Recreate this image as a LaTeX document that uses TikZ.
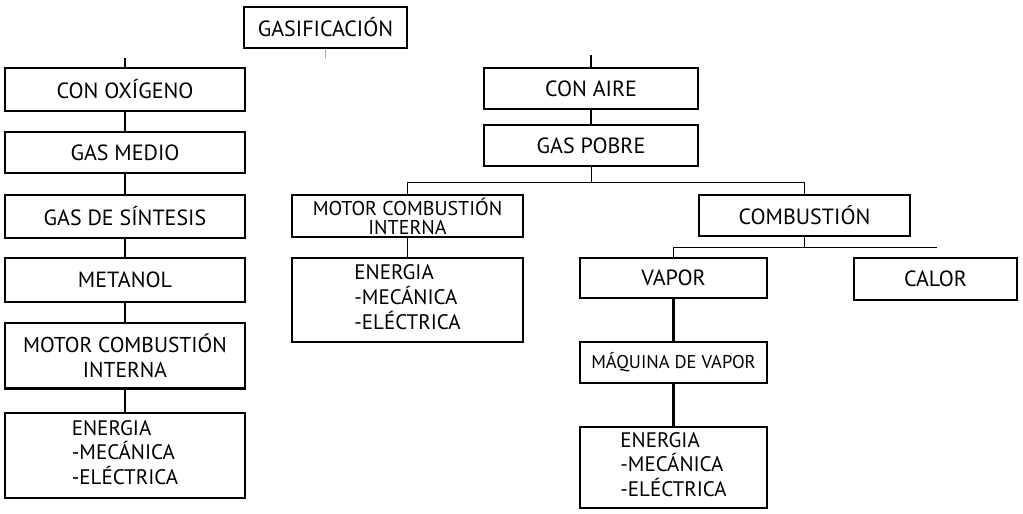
\documentclass[tikz,border=0pt]{standalone}
\usepackage{fontspec}
\setmainfont{PT Sans}
\newcommand{\fsz}[2]{\fontsize{#1}{#2}\selectfont}
\tikzset{
  x=1pt, y=-1pt,
  boxnode/.style={draw, line width=1.5pt, inner sep=0pt, align=center, font=\fsz{22}{24}},
  link/.style={line width=1.6pt},
  thinlink/.style={line width=0.8pt},
  thicklink/.style={line width=3.5pt},
  graylink/.style={line width=0.8pt, draw=black!35},
}
\begin{document}
\begin{tikzpicture}
\useasboundingbox[fill=white] (0,0) rectangle (1023,514);
% top
\node[boxnode, minimum width=163pt, minimum height=41pt] (gas) at (325.5,27.5) {GASIFICACIÓN};
% left column
\node[boxnode, minimum width=240pt, minimum height=43pt] (oxi) at (125,89.5) {CON OXÍGENO};
\node[boxnode, minimum width=240pt, minimum height=41pt] (medio) at (125,152.5) {GAS MEDIO};
\node[boxnode, minimum width=240pt, minimum height=43pt] (sint) at (125,216.5) {GAS DE SÍNTESIS};
\node[boxnode, minimum width=240pt, minimum height=44pt] (meta) at (125,280) {METANOL};
\node[boxnode, minimum width=240pt, minimum height=65pt, font=\fsz{21.5}{25}] (motL) at (125,355.5) {MOTOR COMBUSTIÓN\\INTERNA};
\node[boxnode, minimum width=240pt, minimum height=85pt, font=\fsz{21}{22}] (enL) at (125,455.5) {\begin{tabular}{@{}l@{}}ENERGIA\\-MECÁNICA\\-ELÉCTRICA\end{tabular}};
% right part
\node[boxnode, minimum width=214pt, minimum height=41pt] (aire) at (591,88.5) {CON AIRE};
\node[boxnode, minimum width=214pt, minimum height=41pt] (pobre) at (591,145.5) {GAS POBRE};
\node[boxnode, minimum width=231pt, minimum height=42pt, font=\fsz{20}{19}] (motM) at (407.5,216) {MOTOR COMBUSTIÓN\\INTERNA};
\node[boxnode, minimum width=231pt, minimum height=84pt, font=\fsz{21}{22}] (enM) at (407.5,300) {\begin{tabular}{@{}l@{}}ENERGIA\\-MECÁNICA\\-ELÉCTRICA\end{tabular}};
\node[boxnode, minimum width=211pt, minimum height=41pt] (comb) at (804.5,215.5) {COMBUSTIÓN};
\node[boxnode, minimum width=187pt, minimum height=40pt] (vapor) at (673.5,278) {VAPOR};
\node[boxnode, minimum width=187pt, minimum height=41pt, font=\fsz{18.5}{20}] (maq) at (673.5,362.5) {MÁQUINA DE VAPOR};
\node[boxnode, minimum width=187pt, minimum height=81pt, font=\fsz{21}{22}] (enR) at (673.5,467.5) {\begin{tabular}{@{}l@{}}ENERGIA\\-MECÁNICA\\-ELÉCTRICA\end{tabular}};
\node[boxnode, minimum width=163pt, minimum height=42pt] (calor) at (935.5,279) {CALOR};
% extra thick bottom edge of left motor box
\draw[line width=2.6pt] (motL.south west) -- (motL.south east);
% connector ends
\coordinate (gstub) at (325.5,58);
\coordinate (lstub) at (125,58);
\coordinate (rstub) at (591,55);
\coordinate (h1) at (591,182);
\coordinate (h2L) at (673.5,247);
\coordinate (h2R) at (937,247);
% connectors
\draw[graylink] (gas.south) -- (gstub);
\draw[link] (lstub) -- (oxi.north);
\draw[link] (oxi) -- (medio);
\draw[link] (medio) -- (sint);
\draw[link] (sint) -- (meta);
\draw[link] (meta) -- (motL);
\draw[link] (motL) -- (enL);
\draw[link] (rstub) -- (aire.north);
\draw[link] (aire) -- (pobre);
\draw[thinlink] (pobre.south) -- (h1);
\draw[thinlink] (motM.north) -- (motM.north |- h1) -| (comb.north);
\draw[thinlink] (motM) -- (enM);
\draw[thinlink] (comb.south) -- (comb.south |- h2L);
\draw[thinlink] (h2R) -- (h2L) -- (vapor.north);
\draw[thicklink] (vapor) -- (maq);
\draw[thicklink] (maq) -- (enR);
\end{tikzpicture}
\end{document}
